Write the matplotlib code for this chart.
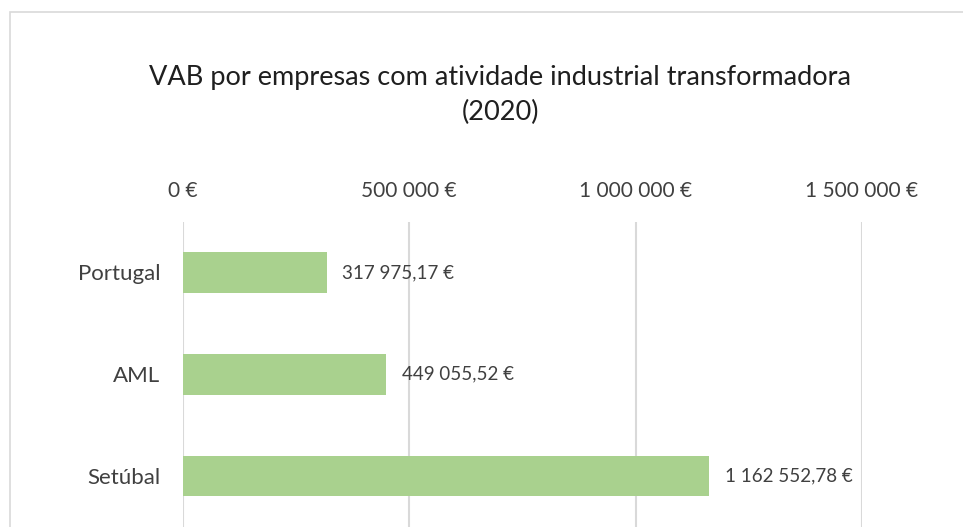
import matplotlib.pyplot as plt
from matplotlib.patches import Rectangle

# data
regioes = ['Portugal', 'AML', 'Setúbal']
vab = [317975.17, 449055.52, 1162552.78]
ticks = [0, 500000, 1000000, 1500000]


def fmt_eur(v, dec=0):
    s = f'{v:,.{dec}f}'.replace(',', ' ').replace('.', ',')
    return s + ' €'


plt.rcParams['font.family'] = ['Lato', 'DejaVu Sans']

fig = plt.figure(figsize=(9.63, 5.27), dpi=100)
W, H = 963, 527

# light chart border (cropped at right and bottom)
fig.patches.append(Rectangle((10 / W, -0.1), 1.2, (H - 12) / H + 0.1,
                             transform=fig.transFigure, fill=False,
                             edgecolor='#d9d9d9', linewidth=1.2))

ax = fig.add_axes([182.5 / W, 0, (862 - 182.5) / W, (H - 221.5) / H])

ypos = list(range(len(regioes)))
bars = ax.barh(ypos, vab, height=0.4, color='#a9d18e', zorder=3)
ax.set_ylim(2.5, -0.5)
ax.set_xlim(0, 1500000)

ax.set_yticks(ypos)
ax.set_yticklabels(regioes, fontsize=16, color='#404040')
ax.tick_params(axis='y', length=0, pad=16)

ax.xaxis.tick_top()
ax.set_xticks(ticks)
ax.set_xticklabels([fmt_eur(t) for t in ticks], fontsize=15, color='#404040')
ax.tick_params(axis='x', length=0, pad=15)

ax.grid(axis='x', color='#d9d9d9', linewidth=1.5, zorder=0)
for s in ax.spines.values():
    s.set_visible(False)

for b, v in zip(bars, vab):
    ax.text(v + 35000, b.get_y() + b.get_height() / 2, fmt_eur(v, 2),
            va='center', ha='left', fontsize=13.5, color='#404040')

fig.text(500 / W, 1 - 95 / H,
         'VAB por empresas com atividade industrial transformadora\n(2020)',
         ha='center', va='center', fontsize=19.5, color='#1f1f1f',
         linespacing=1.45)

fig.savefig('out.png', dpi=100)
